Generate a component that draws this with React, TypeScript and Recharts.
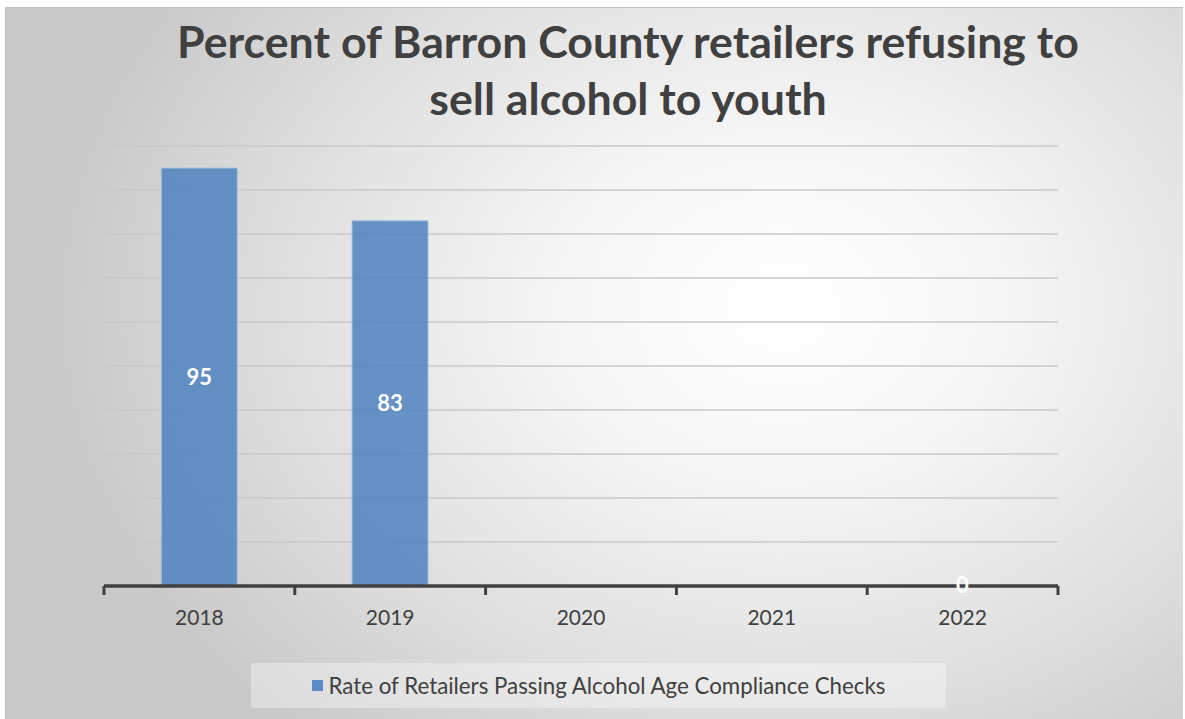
import { BarChart, Bar, XAxis, YAxis, CartesianGrid, LabelList } from 'recharts';

const years = ['2018', '2019', '2020', '2021', '2022'];
const passRate: (number | null)[] = [95, 83, null, null, 0];
const yTicks = [0, 10, 20, 30, 40, 50, 60, 70, 80, 90, 100];

const titleLines = ['Percent of Barron County retailers refusing to', 'sell alcohol to youth'];
const seriesName = 'Rate of Retailers Passing Alcohol Age Compliance Checks';

const W = 1178;
const H = 712;
const PLOT_LEFT = 98;
const PLOT_RIGHT = 1052;
const FONT = 'Lato, "Open Sans", sans-serif';
const TEXT = '#404040';

const data = years.map((year, i) => ({ year, rate: passRate[i] }));

function YearTick(props: any) {
  const { x, y, payload, index } = props;
  const band = (PLOT_RIGHT - PLOT_LEFT) / years.length;
  const left = x - band / 2;
  const right = x + band / 2;
  return (
    <g>
      <line x1={left} y1={y} x2={left} y2={y + 9} stroke="#404040" strokeWidth={3} />
      {index === years.length - 1 ? (
        <line x1={right} y1={y} x2={right} y2={y + 9} stroke="#404040" strokeWidth={3} />
      ) : null}
      <text x={x} y={y + 39} textAnchor="middle" fill={TEXT} fontSize={21} fontFamily={FONT}>
        {payload.value}
      </text>
    </g>
  );
}

function ValueLabel(props: any) {
  const { x, y, width, height, value } = props;
  if (value === null || value === undefined) return null;
  return (
    <text
      x={x + width / 2}
      y={y + height / 2}
      dy={7.5}
      textAnchor="middle"
      fill="#ffffff"
      fontSize={22}
      fontWeight={700}
      fontFamily={FONT}
    >
      {value}
    </text>
  );
}

export default function App() {
  return (
    <div
      style={{
        position: 'absolute',
        left: 5,
        top: 7,
        width: W,
        height: H,
        borderTop: '1px solid #bfbfbf',
        borderLeft: '1px solid #bfbfbf',
        boxSizing: 'border-box',
        background:
          'radial-gradient(ellipse 62% 80% at 66% 42%, #ffffff 0%, #f6f6f6 30%, #dedede 70%, #c9c9c9 100%)',
        fontFamily: FONT,
        overflow: 'hidden',
      }}
    >
      <div
        style={{
          position: 'absolute',
          left: 0,
          width: 1244,
          top: 5,
          textAlign: 'center',
          color: TEXT,
          fontWeight: 700,
          fontSize: 44.7,
          lineHeight: '57px',
        }}
      >
        {titleLines.map((t) => (
          <div key={t}>{t}</div>
        ))}
      </div>
      <BarChart
        width={W}
        height={H}
        data={data}
        margin={{ top: 138, right: W - PLOT_RIGHT, left: PLOT_LEFT, bottom: 94 }}
        barCategoryGap="30%"
        style={{ position: 'absolute', left: 0, top: 0 }}
      >
        <CartesianGrid vertical={false} stroke="#c8c8c8" strokeWidth={1.5} />
        <YAxis hide domain={[0, 100]} ticks={yTicks} />
        <XAxis
          dataKey="year"
          height={40}
          axisLine={{ stroke: '#404040', strokeWidth: 3.5 }}
          tickLine={false}
          tickSize={0}
          tickMargin={0}
          tick={<YearTick />}
          interval={0}
        />
        <Bar
          dataKey="rate"
          name={seriesName}
          fill="#4f81bd"
          fillOpacity={0.85}
          stroke="#a7c1e2"
          strokeWidth={1}
          minPointSize={(v: any) => (v === 0 ? 0.01 : 0)}
          isAnimationActive={false}
        >
          <LabelList dataKey="rate" content={<ValueLabel />} />
        </Bar>
      </BarChart>
      <div
        style={{
          position: 'absolute',
          left: 245,
          top: 655,
          width: 695,
          height: 45,
          background: 'rgba(255,255,255,0.35)',
          display: 'flex',
          alignItems: 'center',
          justifyContent: 'center',
          color: TEXT,
          fontSize: 22.3,
        }}
      >
        <span
          style={{
            display: 'inline-block',
            width: 11,
            height: 11,
            background: '#5b8bc5',
            marginRight: 6,
          }}
        />
        {seriesName}
      </div>
    </div>
  );
}
